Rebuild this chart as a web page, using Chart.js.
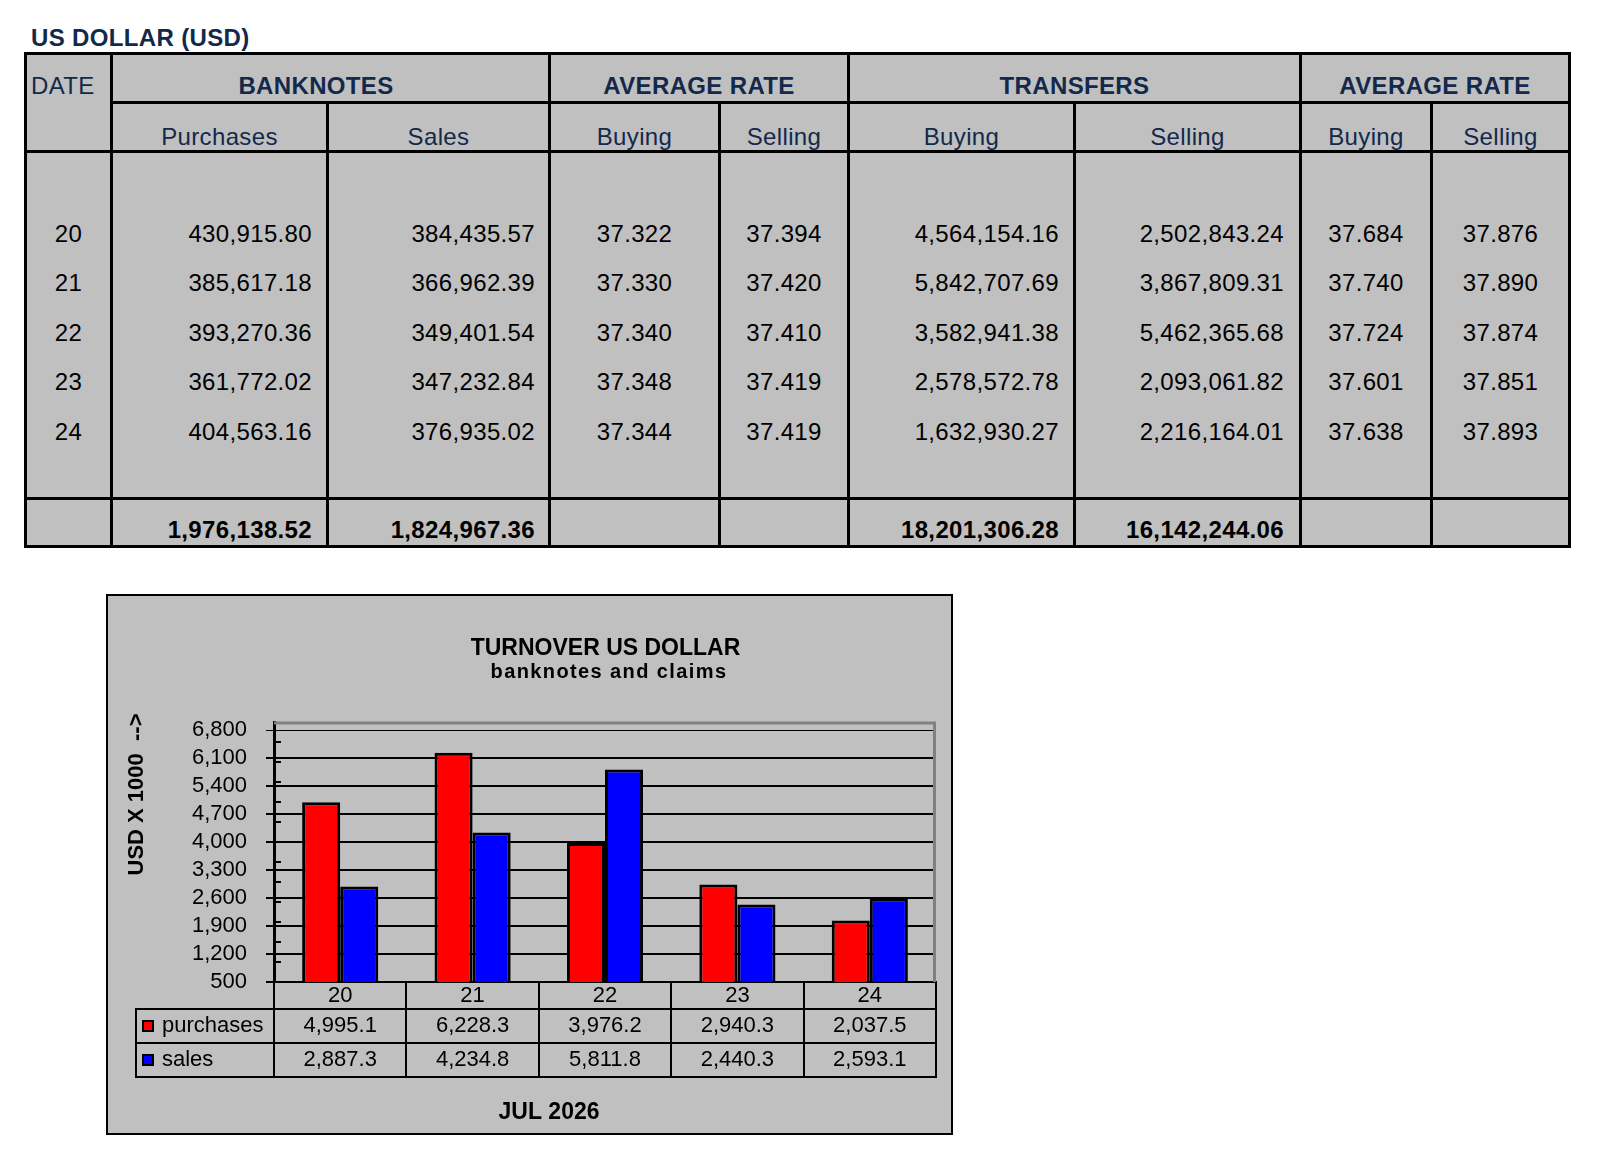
<!DOCTYPE html>
<html>
<head>
<meta charset="utf-8">
<title>US DOLLAR (USD)</title>
<script src="https://cdn.jsdelivr.net/npm/chart.js@4.4.1/dist/chart.umd.min.js"></script>
<style>
  body { margin: 0; background: #fff; }
  #page { position: relative; width: 1607px; height: 1153px; overflow: hidden; font-family: 'Liberation Sans', Arial, sans-serif; }
  .ln { position: absolute; background: #000; }
  .tx { position: absolute; white-space: nowrap; letter-spacing: 0.35px; }
  #tbl { position: absolute; left: 24px; top: 52px; width: 1547px; height: 496px; background: #c0c0c0; }
  #panel { position: absolute; left: 106px; top: 594px; width: 847px; height: 541px; box-sizing: border-box; border: 2px solid #000; background: #c0c0c0; }
  #mycanvas { position: absolute; left: 106px; top: 594px; }
</style>
</head>
<body>
<div id="page">
  <div id="tbl"></div>
  <div id="panel"></div>
  <canvas id="mycanvas" width="847" height="541"></canvas>
</div>
<script>
// table data
var dates = ['20', '21', '22', '23', '24'];
var bnPurchases = [430915.80, 385617.18, 393270.36, 361772.02, 404563.16];
var bnSales = [384435.57, 366962.39, 349401.54, 347232.84, 376935.02];
var bnAvgBuying = [37.322, 37.330, 37.340, 37.348, 37.344];
var bnAvgSelling = [37.394, 37.420, 37.410, 37.419, 37.419];
var trBuying = [4564154.16, 5842707.69, 3582941.38, 2578572.78, 1632930.27];
var trSelling = [2502843.24, 3867809.31, 5462365.68, 2093061.82, 2216164.01];
var trAvgBuying = [37.684, 37.740, 37.724, 37.601, 37.638];
var trAvgSelling = [37.876, 37.890, 37.874, 37.851, 37.893];
var totals = [1976138.52, 1824967.36, 18201306.28, 16142244.06];

// chart data (USD x 1000)
var purchases = [4995.1, 6228.3, 3976.2, 2940.3, 2037.5];
var sales = [2887.3, 4234.8, 5811.8, 2440.3, 2593.1];
var yTicks = [500, 1200, 1900, 2600, 3300, 4000, 4700, 5400, 6100, 6800];
var minorTicks = [1000, 1500, 2000, 2500, 3000, 3500, 4500, 5000, 5500, 6000, 6500];

var FONT = "'Liberation Sans', Arial, sans-serif";
var NAVY = '#13294b';
var page = document.getElementById('page');

function line(x, y, w, h) {
	var d = document.createElement('div');
	d.className = 'ln';
	d.style.left = x + 'px'; d.style.top = y + 'px';
	d.style.width = w + 'px'; d.style.height = h + 'px';
	page.appendChild(d);
}

function txt(s, x, base, align, size, bold, color) {
	var d = document.createElement('div');
	d.className = 'tx';
	d.textContent = s;
	d.style.font = (bold ? 'bold ' : '') + size + 'px/' + size + 'px ' + FONT;
	d.style.color = color;
	d.style.left = x + 'px';
	d.style.top = (base - 0.8465 * size) + 'px';
	if (align == 'center') d.style.transform = 'translateX(-50%)';
	if (align == 'right') d.style.transform = 'translateX(-100%)';
	page.appendChild(d);
}

function money(v) {
	return v.toLocaleString('en-US', {minimumFractionDigits: 2, maximumFractionDigits: 2});
}
function rate(v) {
	return v.toFixed(3);
}

/* table grid */
var cols = [24, 110, 326, 548, 718, 847, 1073, 1299, 1430, 1568];
[52, 150, 497, 545].forEach(function(y) { line(24, y, 1547, 3); });
line(110, 101, 1461, 3);
[24, 110, 548, 847, 1299, 1568].forEach(function(x) { line(x, 52, 3, 496); });
[326, 718, 1073, 1430].forEach(function(x) { line(x, 101, 3, 447); });

function mid(i) { return (cols[i] + 3 + cols[i + 1]) / 2; }

txt('US DOLLAR (USD)', 31, 46, 'left', 24, true, NAVY);
txt('DATE', 31, 94, 'left', 24, false, NAVY);
txt('BANKNOTES', 316, 94, 'center', 24, true, NAVY);
txt('AVERAGE RATE', (cols[3] + 3 + cols[5]) / 2, 94, 'center', 24, true, NAVY);
txt('TRANSFERS', (cols[5] + 3 + cols[7]) / 2, 94, 'center', 24, true, NAVY);
txt('AVERAGE RATE', (cols[7] + 3 + cols[9]) / 2, 94, 'center', 24, true, NAVY);

var subs = ['Purchases', 'Sales', 'Buying', 'Selling', 'Buying', 'Selling', 'Buying', 'Selling'];
for (var s = 0; s < subs.length; s++) {
	txt(subs[s], mid(s + 1), 145, 'center', 24, false, NAVY);
}

for (var r = 0; r < dates.length; r++) {
	var b = 242 + r * 49.5;
	txt(dates[r], mid(0), b, 'center', 24, false, '#000');
	txt(money(bnPurchases[r]), cols[2] - 14, b, 'right', 24, false, '#000');
	txt(money(bnSales[r]), cols[3] - 13, b, 'right', 24, false, '#000');
	txt(rate(bnAvgBuying[r]), mid(3), b, 'center', 24, false, '#000');
	txt(rate(bnAvgSelling[r]), mid(4), b, 'center', 24, false, '#000');
	txt(money(trBuying[r]), cols[6] - 14, b, 'right', 24, false, '#000');
	txt(money(trSelling[r]), cols[7] - 15, b, 'right', 24, false, '#000');
	txt(rate(trAvgBuying[r]), mid(7), b, 'center', 24, false, '#000');
	txt(rate(trAvgSelling[r]), mid(8), b, 'center', 24, false, '#000');
}
txt(money(totals[0]), cols[2] - 14, 538, 'right', 24, true, '#000');
txt(money(totals[1]), cols[3] - 13, 538, 'right', 24, true, '#000');
txt(money(totals[2]), cols[6] - 14, 538, 'right', 24, true, '#000');
txt(money(totals[3]), cols[7] - 15, 538, 'right', 24, true, '#000');

/* chart decorations: titles, frame, minor ticks, data table */
var deco = {
	id: 'deco',
	afterDraw: function(chart) {
		var ctx = chart.ctx, ca = chart.chartArea, y = chart.scales.y;
		ctx.save();

		// gray frame top/right
		ctx.strokeStyle = '#808080';
		ctx.lineWidth = 3;
		ctx.beginPath();
		ctx.moveTo(ca.left, ca.top + 1);
		ctx.lineTo(ca.right - 1.5, ca.top + 1);
		ctx.lineTo(ca.right - 1.5, ca.bottom);
		ctx.stroke();

		// minor ticks
		ctx.strokeStyle = '#000';
		ctx.lineWidth = 2;
		minorTicks.forEach(function(v) {
			var py = Math.round(y.getPixelForValue(v));
			ctx.beginPath();
			ctx.moveTo(ca.left, py);
			ctx.lineTo(ca.left + 7, py);
			ctx.stroke();
		});

		// data table
		var cw = (ca.right - ca.left) / dates.length;
		var r0 = ca.bottom, r1 = r0 + 27, r2 = r1 + 34, r3 = r2 + 34;
		var lx = 30;
		ctx.beginPath();
		for (var i = 0; i <= dates.length; i++) {
			var px = Math.round(ca.left + i * cw);
			ctx.moveTo(px, r0); ctx.lineTo(px, r3);
		}
		ctx.moveTo(lx, r1); ctx.lineTo(lx, r3);
		[r1, r2, r3].forEach(function(ry) { ctx.moveTo(lx - 1, ry); ctx.lineTo(ca.right + 1, ry); });
		ctx.stroke();

		var rows = [
			{label: 'purchases', color: '#ff0000', values: purchases, top: r1},
			{label: 'sales', color: '#0000ff', values: sales, top: r2}
		];
		ctx.font = '22px ' + FONT;
		ctx.fillStyle = '#000';
		ctx.textBaseline = 'alphabetic';
		rows.forEach(function(row) {
			var c = row.top + 17;
			ctx.fillStyle = '#000';
			ctx.fillRect(lx + 6, c - 6, 12, 12);
			ctx.fillStyle = row.color;
			ctx.fillRect(lx + 8, c - 4, 8, 8);
			ctx.fillStyle = '#000';
			ctx.textAlign = 'left';
			ctx.fillText(row.label, lx + 26, c + 6);
			ctx.textAlign = 'center';
			row.values.forEach(function(v, k) {
				ctx.fillText(v.toLocaleString('en-US', {minimumFractionDigits: 1, maximumFractionDigits: 1}),
					ca.left + (k + 0.5) * cw, c + 6);
			});
		});

		// titles
		ctx.textAlign = 'center';
		ctx.font = 'bold 23px ' + FONT;
		ctx.fillText('TURNOVER US DOLLAR', 499.5, 61);
		ctx.font = 'bold 20px ' + FONT;
		ctx.letterSpacing = '1.4px';
		ctx.fillText('banknotes and claims', 503, 84);
		ctx.letterSpacing = '0px';
		ctx.font = 'bold 23px ' + FONT;
		ctx.fillText('JUL 2026', 443, 525);

		ctx.translate(31, 200.5);
		ctx.rotate(-Math.PI / 2);
		ctx.font = 'bold 22px ' + FONT;
		ctx.textBaseline = 'middle';
		ctx.fillText('USD X 1000  -->', 0, 0);
		ctx.restore();
	}
};

Chart.defaults.font.family = FONT;
Chart.defaults.color = '#000';

var ctx = document.getElementById('mycanvas');
var barGraph = new Chart(ctx, {
	type: 'bar',
	data: {
		labels: dates,
		datasets: [
			{label: 'purchases', data: purchases, backgroundColor: '#ff0000', borderColor: '#000', borderWidth: 3},
			{label: 'sales', data: sales, backgroundColor: '#0000ff', borderColor: '#000', borderWidth: 3}
		]
	},
	options: {
		responsive: false,
		animation: false,
		devicePixelRatio: 1,
		barPercentage: 1,
		categoryPercentage: 0.575,
		layout: { padding: {left: 0, right: 17, top: 128, bottom: 0} },
		plugins: { legend: {display: false}, tooltip: {enabled: false} },
		scales: {
			x: {
				grid: {display: false, drawTicks: false},
				border: {display: true, color: '#000', width: 2},
				ticks: {font: {size: 22}, padding: 1, color: '#000'},
				afterFit: function(s) { s.height = 153; }
			},
			y: {
				min: 500,
				max: 7000,
				afterBuildTicks: function(s) { s.ticks = yTicks.map(function(v) { return {value: v}; }); },
				afterFit: function(s) { s.width = 168; },
				grid: {
					color: '#000',
					lineWidth: function(c) { return c.tick && c.tick.value === 6800 ? 1 : 2; },
					tickLength: 8
				},
				border: {display: true, color: '#000', width: 3},
				ticks: {
					font: {size: 22},
					padding: 19,
					color: '#000',
					autoSkip: false,
					callback: function(v) { return v.toLocaleString('en-US'); }
				}
			}
		}
	},
	plugins: [deco]
});
</script>
</body>
</html>
